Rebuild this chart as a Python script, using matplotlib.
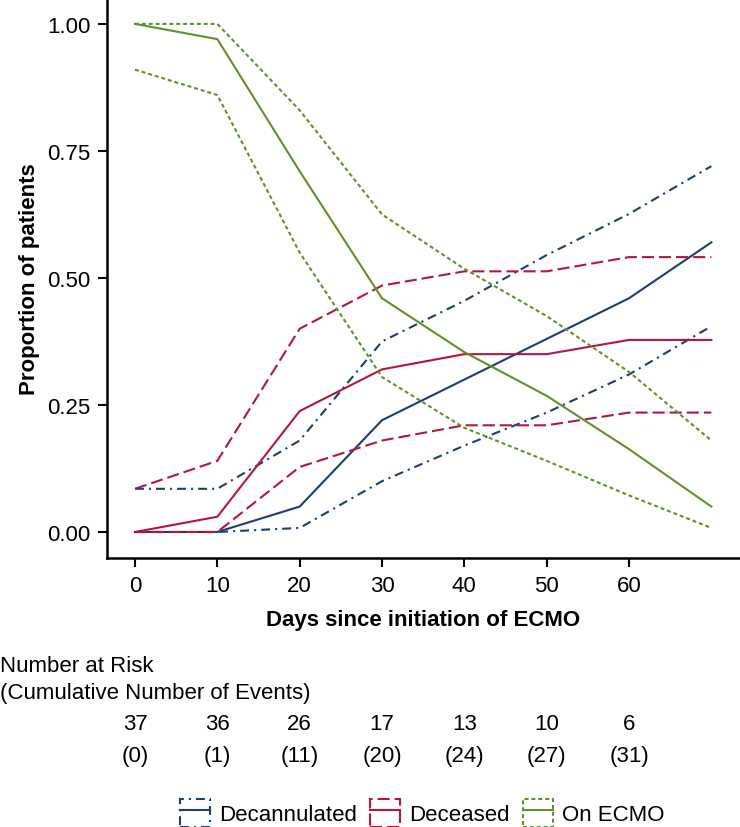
import matplotlib
matplotlib.use('Agg')
import matplotlib.pyplot as plt
from matplotlib.patches import Patch
from matplotlib.lines import Line2D
from matplotlib.legend_handler import HandlerTuple
import matplotlib.transforms as mtransforms

plt.rcParams['font.family'] = ['Liberation Sans', 'DejaVu Sans']

days = [0, 10, 20, 30, 40, 50, 60, 70]

# cumulative incidence estimates with 95% CI
decan = [0.00, 0.00, 0.05, 0.22, 0.30, 0.38, 0.46, 0.57]
decan_lo = [0.00, 0.00, 0.008, 0.10, 0.17, 0.235, 0.31, 0.405]
decan_hi = [0.085, 0.085, 0.18, 0.375, 0.455, 0.545, 0.626, 0.72]

dead = [0.00, 0.03, 0.238, 0.32, 0.35, 0.35, 0.378, 0.378]
dead_lo = [0.00, 0.00, 0.128, 0.18, 0.21, 0.21, 0.235, 0.235]
dead_hi = [0.085, 0.14, 0.40, 0.485, 0.513, 0.513, 0.541, 0.541]

ecmo = [1.00, 0.97, 0.71, 0.46, 0.354, 0.268, 0.163, 0.05]
ecmo_lo = [0.91, 0.86, 0.55, 0.305, 0.205, 0.14, 0.072, 0.008]
ecmo_hi = [1.00, 1.00, 0.83, 0.625, 0.518, 0.425, 0.315, 0.18]

risk_days = [0, 10, 20, 30, 40, 50, 60]
at_risk = [37, 36, 26, 17, 13, 10, 6]
events = [0, 1, 11, 20, 24, 27, 31]

c_blue = '#1d3c78'
c_red = '#b3173e'
c_green = '#5f9329'

ls_dashdot = (0, (4.3, 2.4, 1.0, 2.4))
ls_dash = (0, (5.8, 2.4))
ls_dot = (0, (1.9, 1.4))

fig = plt.figure(figsize=(7.4, 8.28), dpi=100)
ax = fig.add_axes([107/740, 1-559/828, 1-107/740, 559/828])

lw = 1.5
ax.plot(days, decan, color=c_blue, lw=lw)
ax.plot(days, decan_lo, color=c_blue, lw=lw, linestyle=ls_dashdot)
ax.plot(days, decan_hi, color=c_blue, lw=lw, linestyle=ls_dashdot)
ax.plot(days, dead, color=c_red, lw=lw)
ax.plot(days, dead_lo, color=c_red, lw=lw, linestyle=ls_dash)
ax.plot(days, dead_hi, color=c_red, lw=lw, linestyle=ls_dash)
ax.plot(days, ecmo, color=c_green, lw=lw)
ax.plot(days, ecmo_lo, color=c_green, lw=lw, linestyle=ls_dot)
ax.plot(days, ecmo_hi, color=c_green, lw=lw, linestyle=ls_dot)

ax.set_xlim(-3.4, 73.48)
ax.set_ylim(-0.0512, 1.049)
ax.set_xticks(risk_days)
ax.set_yticks([0, 0.25, 0.5, 0.75, 1.0])
ax.set_yticklabels(['0.00', '0.25', '0.50', '0.75', '1.00'])
ax.tick_params(labelsize=16, length=6.5, width=1.5, pad=5.5)
for s in ['top', 'right']:
    ax.spines[s].set_visible(False)
for s in ['left', 'bottom']:
    ax.spines[s].set_linewidth(1.8)

ax.set_xlabel('Days since initiation of ECMO', fontsize=16, fontweight='bold')
ax.xaxis.set_label_coords(0.5, (559-610)/559)
ax.set_ylabel('Proportion of patients', fontsize=16, fontweight='bold')
ax.yaxis.set_label_coords((40-107)/633, 0.5)

# risk table
fig.text(0, 1-667/828, 'Number at Risk', fontsize=16, ha='left', va='center')
fig.text(0, 1-693/828, '(Cumulative Number of Events)', fontsize=16, ha='left', va='center')
trans = mtransforms.blended_transform_factory(ax.transData, fig.transFigure)
for d, n, e in zip(risk_days, at_risk, events):
    fig.text(d, 1-725/828, str(n), fontsize=16, ha='center', va='center', transform=trans)
    fig.text(d, 1-757/828, '(%d)' % e, fontsize=16, ha='center', va='center', transform=trans)

# legend
handles = []
for c, ls in [(c_blue, ls_dashdot), (c_red, ls_dash), (c_green, ls_dot)]:
    box = Patch(facecolor='none', edgecolor=c, linestyle=ls, linewidth=1.5)
    line = Line2D([], [], color=c, lw=1.5)
    handles.append((box, line))
fig.legend(handles, ['Decannulated', 'Deceased', 'On ECMO'],
           handler_map={tuple: HandlerTuple(ndivide=1)},
           loc='center', bbox_to_anchor=(422/740, 1-814/828), ncol=3,
           frameon=False, fontsize=16, handlelength=1.35, handleheight=1.55,
           handletextpad=0.4, columnspacing=0.6, borderpad=0)

fig.savefig('out.png', dpi=100)
